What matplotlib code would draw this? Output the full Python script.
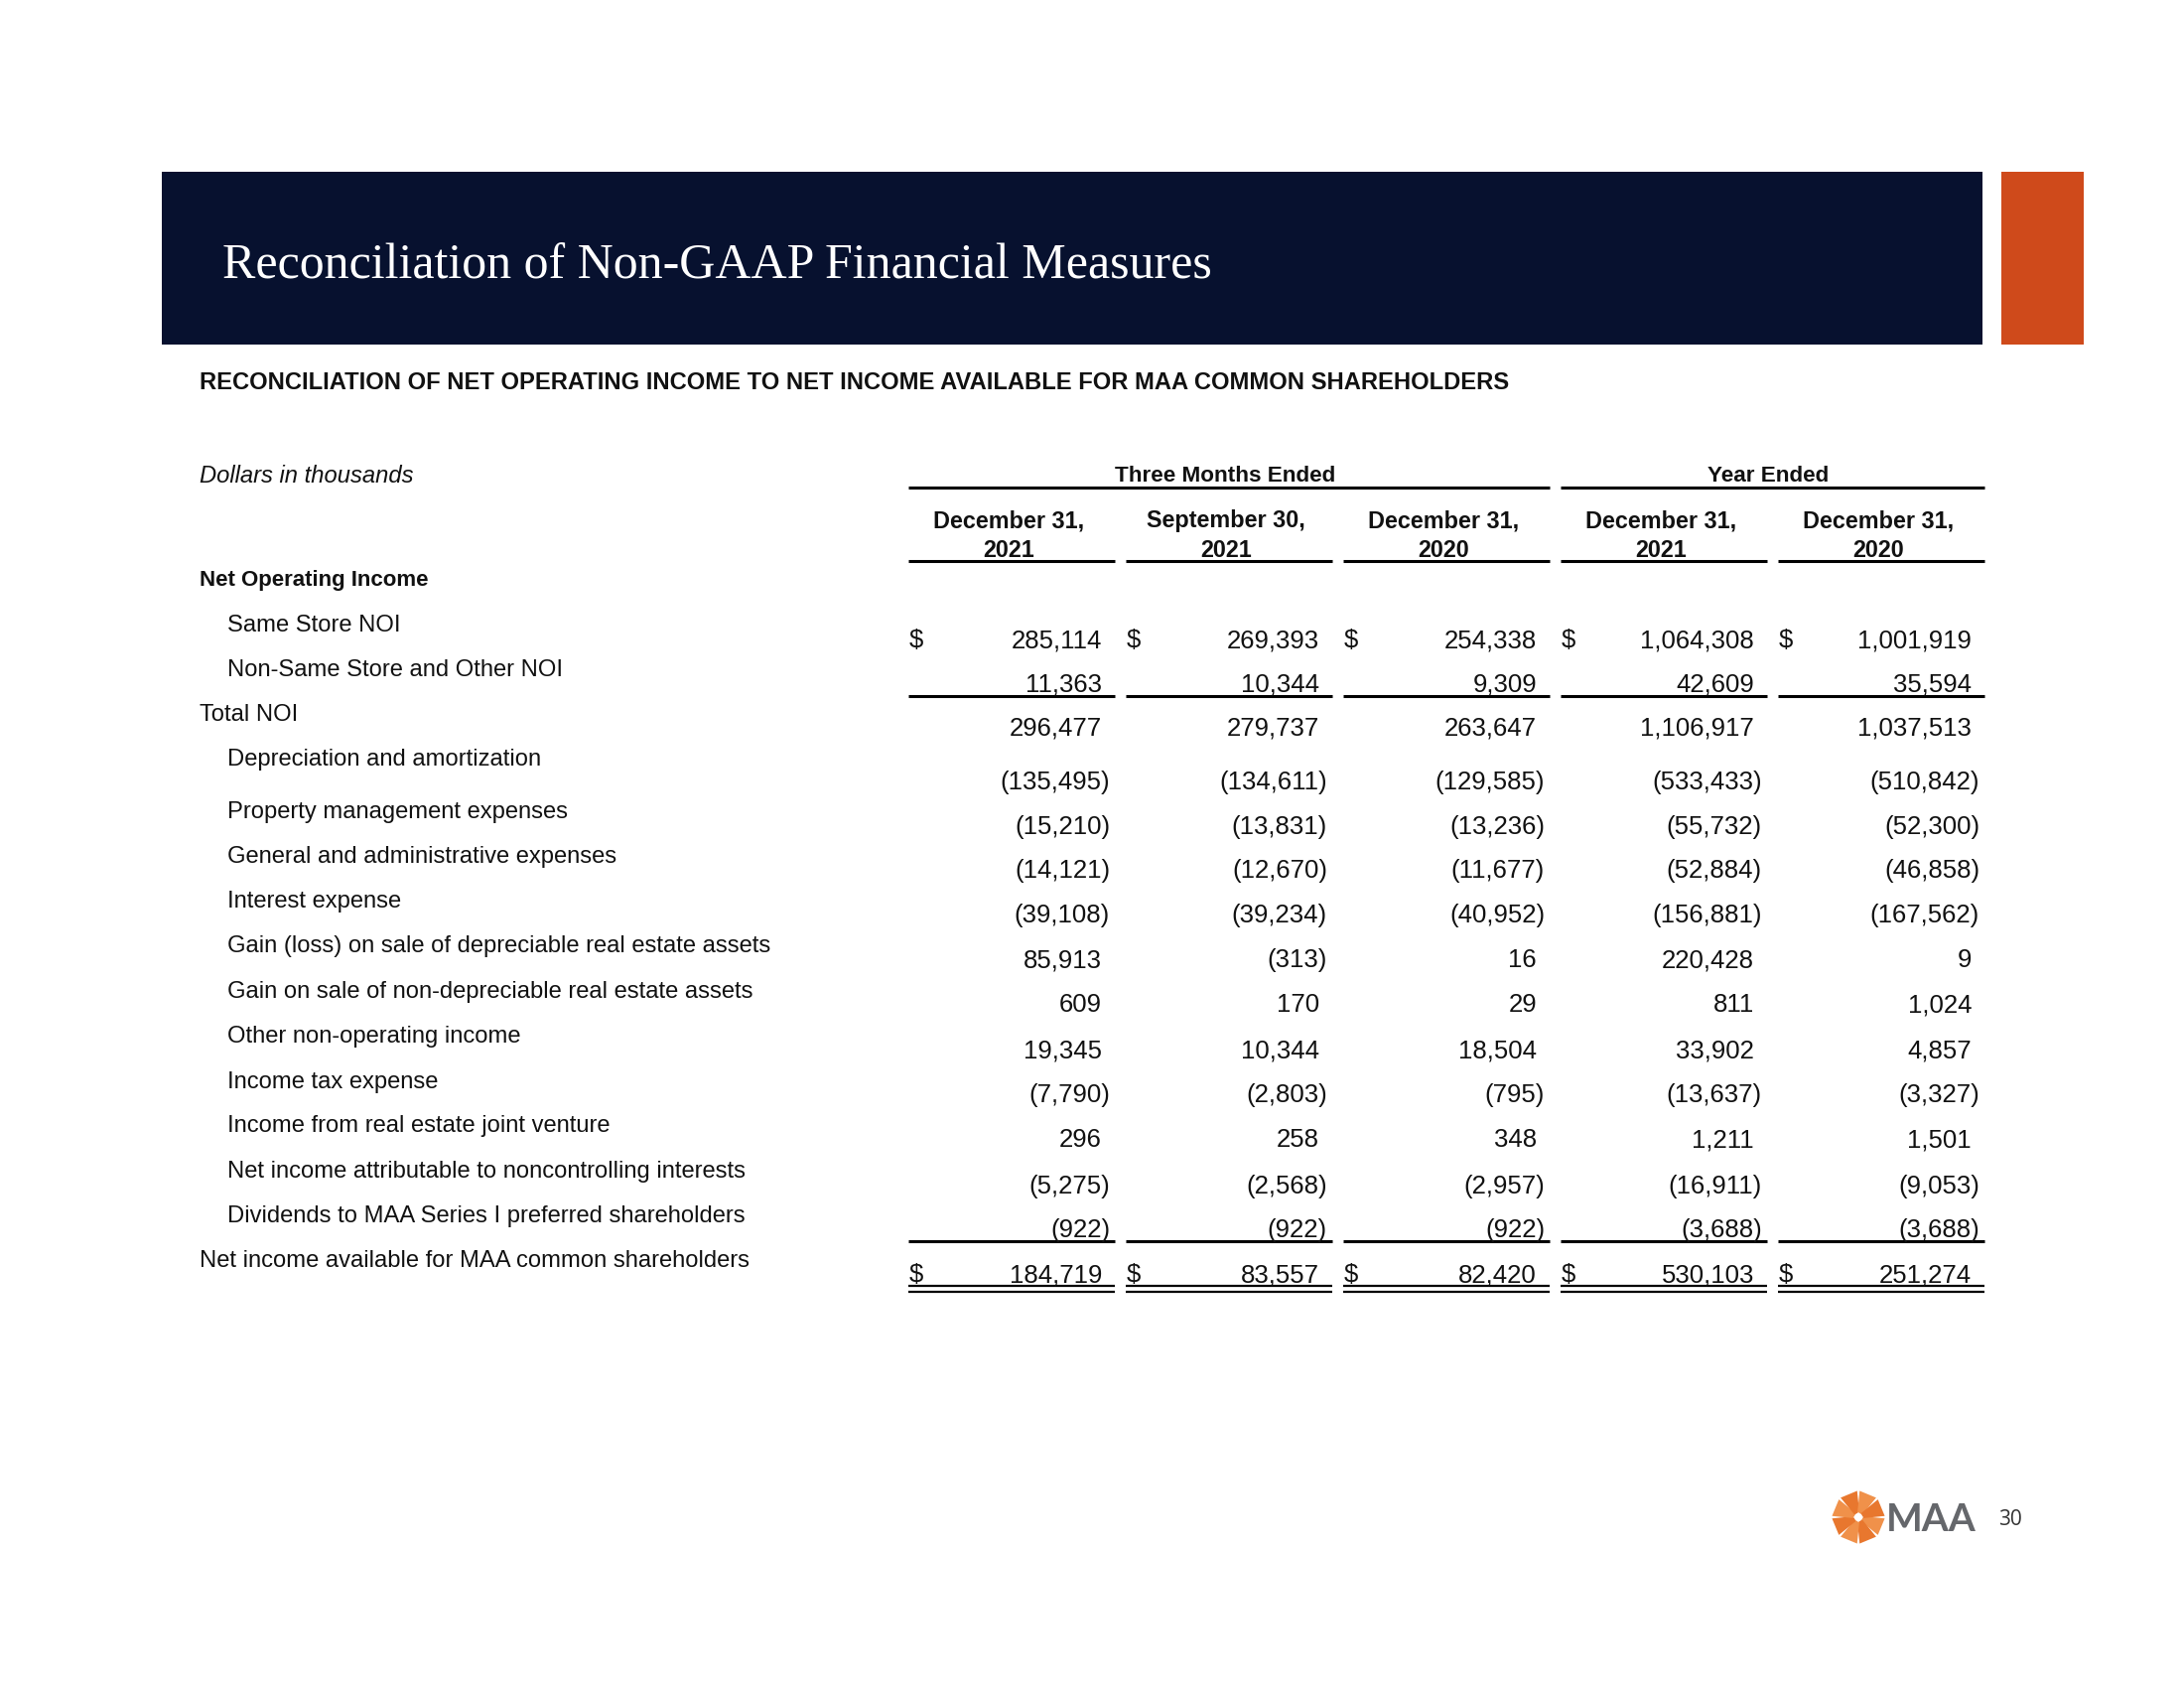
import matplotlib
matplotlib.use("Agg")
import matplotlib.pyplot as plt
from matplotlib.patches import Rectangle, Polygon
import numpy as np

# ---------------- data ----------------
row_labels = [
    "Same Store NOI",
    "Non-Same Store and Other NOI",
    "Total NOI",
    "Depreciation and amortization",
    "Property management expenses",
    "General and administrative expenses",
    "Interest expense",
    "Gain (loss) on sale of depreciable real estate assets",
    "Gain on sale of non-depreciable real estate assets",
    "Other non-operating income",
    "Income tax expense",
    "Income from real estate joint venture",
    "Net income attributable to noncontrolling interests",
    "Dividends to MAA Series I preferred shareholders",
    "Net income available for MAA common shareholders",
]
col_headers = [("December 31,", "2021"), ("September 30,", "2021"), ("December 31,", "2020"),
               ("December 31,", "2021"), ("December 31,", "2020")]
group_headers = ["Three Months Ended", "Year Ended"]

q_dec_2021 = [285114, 11363, 296477, -135495, -15210, -14121, -39108, 85913, 609, 19345, -7790, 296, -5275, -922, 184719]
q_sep_2021 = [269393, 10344, 279737, -134611, -13831, -12670, -39234, -313, 170, 10344, -2803, 258, -2568, -922, 83557]
q_dec_2020 = [254338, 9309, 263647, -129585, -13236, -11677, -40952, 16, 29, 18504, -795, 348, -2957, -922, 82420]
y_dec_2021 = [1064308, 42609, 1106917, -533433, -55732, -52884, -156881, 220428, 811, 33902, -13637, 1211, -16911, -3688, 530103]
y_dec_2020 = [1001919, 35594, 1037513, -510842, -52300, -46858, -167562, 9, 1024, 4857, -3327, 1501, -9053, -3688, 251274]

title = "Reconciliation of Non-GAAP Financial Measures"
subtitle = "RECONCILIATION OF NET OPERATING INCOME TO NET INCOME AVAILABLE FOR MAA COMMON SHAREHOLDERS"

# ---------------- layout ----------------
W, H = 2200, 1700
fig = plt.figure(figsize=(22, 17), dpi=100)
ax = fig.add_axes([0, 0, 1, 1])
ax.set_xlim(0, W)
ax.set_ylim(H, 0)
ax.axis("off")

NAVY = "#07112f"
ORANGE = "#cf4a1b"
TXT = "#111111"
SANS = ["Liberation Sans", "DejaVu Sans"]
PX = 100 / 72.0


def put(x, yc, s, size, ha="left", weight="normal", style="normal", color=TXT, family=SANS):
    # place text so that cap-height is centred on yc
    base = yc + 0.36 * size * PX
    ax.text(x, base, s, fontsize=size, ha=ha, va="baseline", weight=weight,
            style=style, color=color, family=family)


# title bar
ax.add_patch(Rectangle((163, 173), 1834, 174, color=NAVY, lw=0))
ax.add_patch(Rectangle((2016, 173), 83, 174, color=ORANGE, lw=0))
put(224, 262, title, 36, color="white", family=["Liberation Serif", "DejaVu Serif"])

put(201, 383, subtitle, 17.1, weight="bold")
put(201, 477, "Dollars in thousands", 17.1, style="italic")
put(201, 582, "Net Operating Income", 16, weight="bold")

label_y = [627, 672, 717, 762, 815, 860, 905, 950, 996, 1041, 1087, 1131, 1177, 1222, 1267]
value_y = [643, 687, 731, 786, 831, 875, 920, 965, 1010, 1056, 1101, 1146, 1193, 1237, 1282]
indent = [1, 1, 0, 1, 1, 1, 1, 1, 1, 1, 1, 1, 1, 1, 0]

for lab, yy, ind in zip(row_labels, label_y, indent):
    put(201 + 28 * ind, yy, lab, 17.1)

col_left = [915 + 219 * i for i in range(5)]
col_w = 208

# group headers
groups = [(col_left[0], col_left[2] + col_w), (col_left[3], col_left[4] + col_w)]
for (x0, x1), g in zip(groups, group_headers):
    put((x0 + x1) / 2 - 4, 477, g, 16.2, ha="center", weight="bold")
    ax.plot([x0, x1], [491, 491], color="black", lw=2.2, solid_capstyle="butt")

for x0, (h1, h2) in zip(col_left, col_headers):
    put(x0 + col_w / 2 - 3, 523, h1, 16.8, ha="center", weight="bold")
    put(x0 + col_w / 2 - 3, 553, h2, 16.8, ha="center", weight="bold")
    ax.plot([x0, x0 + col_w], [565, 565], color="black", lw=2.2, solid_capstyle="butt")


def fmt(v):
    return f"({abs(v):,})" if v < 0 else f"{v:,}"


columns = [q_dec_2021, q_sep_2021, q_dec_2020, y_dec_2021, y_dec_2020]
dollar_rows = {0, len(row_labels) - 1}
for x0, col in zip(col_left, columns):
    xr = x0 + col_w
    for i, (v, yy) in enumerate(zip(col, value_y)):
        if v < 0:
            put(xr - 5, yy, fmt(v), 18.5, ha="right")
        else:
            put(xr - 13, yy, fmt(v), 18.5, ha="right")
        if i in dollar_rows:
            put(x0 + 1, yy, "$", 18.5)
    # rules
    ax.plot([x0, xr], [701, 701], color="black", lw=2.2, solid_capstyle="butt")
    ax.plot([x0, xr], [1250, 1250], color="black", lw=2.2, solid_capstyle="butt")
    ax.plot([x0, xr], [1295, 1295], color="black", lw=1.6, solid_capstyle="butt")
    ax.plot([x0, xr], [1301, 1301], color="black", lw=1.6, solid_capstyle="butt")

# logo
cx, cy = 1872, 1528
for k in range(8):
    a = np.deg2rad(22.5 + 45 * k)
    r0, r1, hw = 4, 25, 9
    d = np.array([np.cos(a), np.sin(a)])
    n = np.array([-d[1], d[0]])
    pts = [np.array([cx, cy]) + d * r0 + n * hw * 0.3,
           np.array([cx, cy]) + d * r1 + n * hw,
           np.array([cx, cy]) + d * r1 - n * hw,
           np.array([cx, cy]) + d * r0 - n * hw * 0.3]
    ax.add_patch(Polygon(pts, closed=True, color="#e8772e" if k % 2 else "#f0914a", lw=0))
ax.add_patch(Polygon([[cx - 5, cy], [cx, cy - 5], [cx + 5, cy], [cx, cy + 5]], color="white", lw=0))
put(1900, 1528, "MAA", 28, color="#65676b", weight="bold", family=["Lato", "Liberation Sans"])
put(2013, 1529, "30", 15, color="#333333", family=["Open Sans", "Liberation Sans"])

fig.savefig("out.png", dpi=100, facecolor="white")
